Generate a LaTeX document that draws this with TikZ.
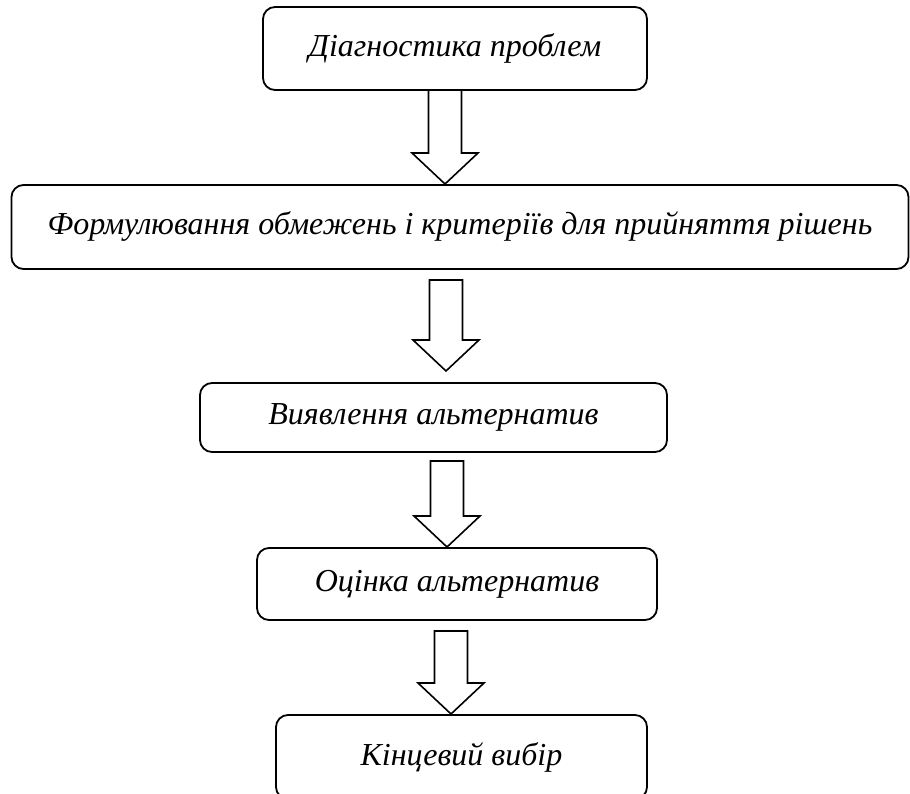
\documentclass[tikz,border=0pt]{standalone}
\usepackage{fontspec}
\setmainfont{Liberation Serif}
\usetikzlibrary{calc}
\tikzset{
  stagebox/.style={draw=black, line width=1.8pt, rounded corners=12pt, fill=white,
    inner sep=0pt, align=center, font=\fontsize{32}{37}\selectfont\itshape},
  barrow/.style={draw=black, line width=1.6pt, fill=white, line join=miter}
}
\newcommand{\blockarr}[2]{%
  \draw[barrow] ($(#1)+(-16.5,0)$) -- ($(#1)+(16.5,0)$) -- ($(#2)+(16.5,-31)$) --
    ($(#2)+(33,-31)$) -- (#2) -- ($(#2)+(-33,-31)$) -- ($(#2)+(-16.5,-31)$) -- cycle;}
\begin{document}
\begin{tikzpicture}[x=1pt,y=-1pt]
\useasboundingbox (0,0) rectangle (910,794);
\clip (0,0) rectangle (910,794);
\node[stagebox, minimum width=384pt, minimum height=83pt] (b1) at (455,48.5) {Діагностика проблем};
\node[stagebox, minimum width=897pt, minimum height=84pt] (b2) at (460,227) {Формулювання обмежень і критеріїв для прийняття рішень};
\node[stagebox, minimum width=467pt, minimum height=69pt] (b3) at (433.5,417.5) {Виявлення альтернатив};
\node[stagebox, minimum width=400pt, minimum height=72pt] (b4) at (457,584) {Оцінка альтернатив};
\node[stagebox, minimum width=371pt, minimum height=84pt] (b5) at (461.5,757) {Кінцевий вибір};
\coordinate (a1s) at (445,90);
\coordinate (a1t) at (445,184);
\coordinate (a2s) at (446,280);
\coordinate (a2t) at (446,371);
\coordinate (a3s) at (447,461);
\coordinate (a3t) at (447,547);
\coordinate (a4s) at (451,631);
\coordinate (a4t) at (451,714);
\blockarr{a1s}{a1t}
\blockarr{a2s}{a2t}
\blockarr{a3s}{a3t}
\blockarr{a4s}{a4t}
\end{tikzpicture}
\end{document}
